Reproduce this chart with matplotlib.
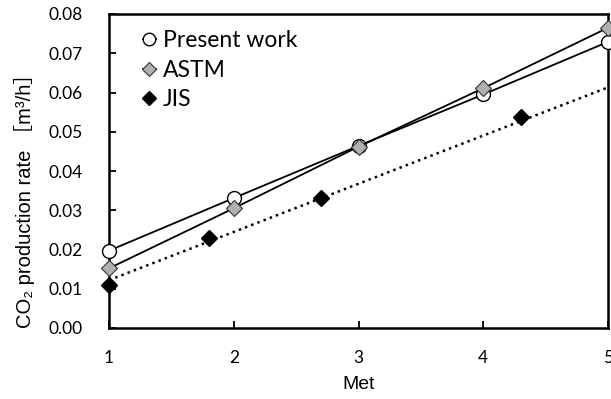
import matplotlib
matplotlib.use("Agg")
import matplotlib.pyplot as plt

met = [1, 2, 3, 4, 5]
present_work = [0.0197, 0.0331, 0.0464, 0.0595, 0.0729]
astm = [0.0152, 0.0305, 0.0462, 0.0611, 0.0765]
jis_x = [1.0, 1.8, 2.7, 4.3]
jis_y = [0.0110, 0.0229, 0.0331, 0.0538]
jis_trend_x = [1, 5]
jis_trend_y = [0.0122, 0.0613]
yticks = [0.00, 0.01, 0.02, 0.03, 0.04, 0.05, 0.06, 0.07, 0.08]
xticks = [1, 2, 3, 4, 5]

fam = ['Lato', 'Noto Sans CJK JP', 'DejaVu Sans']
plt.rcParams['font.family'] = fam

fig = plt.figure(figsize=(6.11, 3.99), dpi=100)
ax = fig.add_axes([109/611, 1-328/399, (608-109)/611, (328-14)/399])

ax.plot(met, present_work, '-', color='black', lw=1.3, marker='o', ms=10,
        mfc='white', mec='black', mew=1.0, clip_on=False, zorder=3, label='Present work')
ax.plot(met, astm, '-', color='black', lw=1.3, marker='D', ms=8,
        mfc='#b0b0b0', mec='#333333', mew=0.8, clip_on=False, zorder=4, label='ASTM')
ax.plot(jis_trend_x, jis_trend_y, ':', color='black', lw=1.8, zorder=2)
ax.plot(jis_x, jis_y, linestyle='none', marker='D', ms=8, mfc='black', mec='black',
        clip_on=False, zorder=5, label='JIS')

ax.set_xlim(1, 5)
ax.set_ylim(0, 0.08)
ax.set_xticks(xticks)
ax.set_yticks(yticks)
ax.set_yticklabels([f'{v:.2f}' for v in yticks])
ax.tick_params(direction='in', length=5, width=1.3, labelsize=12.5, colors='black')
ax.tick_params(axis='y', pad=19)
ax.tick_params(axis='x', pad=16)
for s in ax.spines.values():
    s.set_linewidth(1.8)

ax.set_xlabel('Met', fontsize=14, family=['Liberation Sans'], labelpad=7)
fig.text(24/611, 1-196/399, 'CO₂ production rate ［m³/h］', rotation=90,
         ha='center', va='center', fontsize=14.5,
         family=['Liberation Sans', 'Noto Sans CJK JP', 'DejaVu Sans'])

leg = ax.legend(loc='upper left', frameon=False, fontsize=16.5, handlelength=0.6,
                handletextpad=0.3, labelspacing=0.38, borderaxespad=0.3,
                bbox_to_anchor=(0.035, 1.0), markerscale=0.9)

fig.savefig('out.png', dpi=100)
